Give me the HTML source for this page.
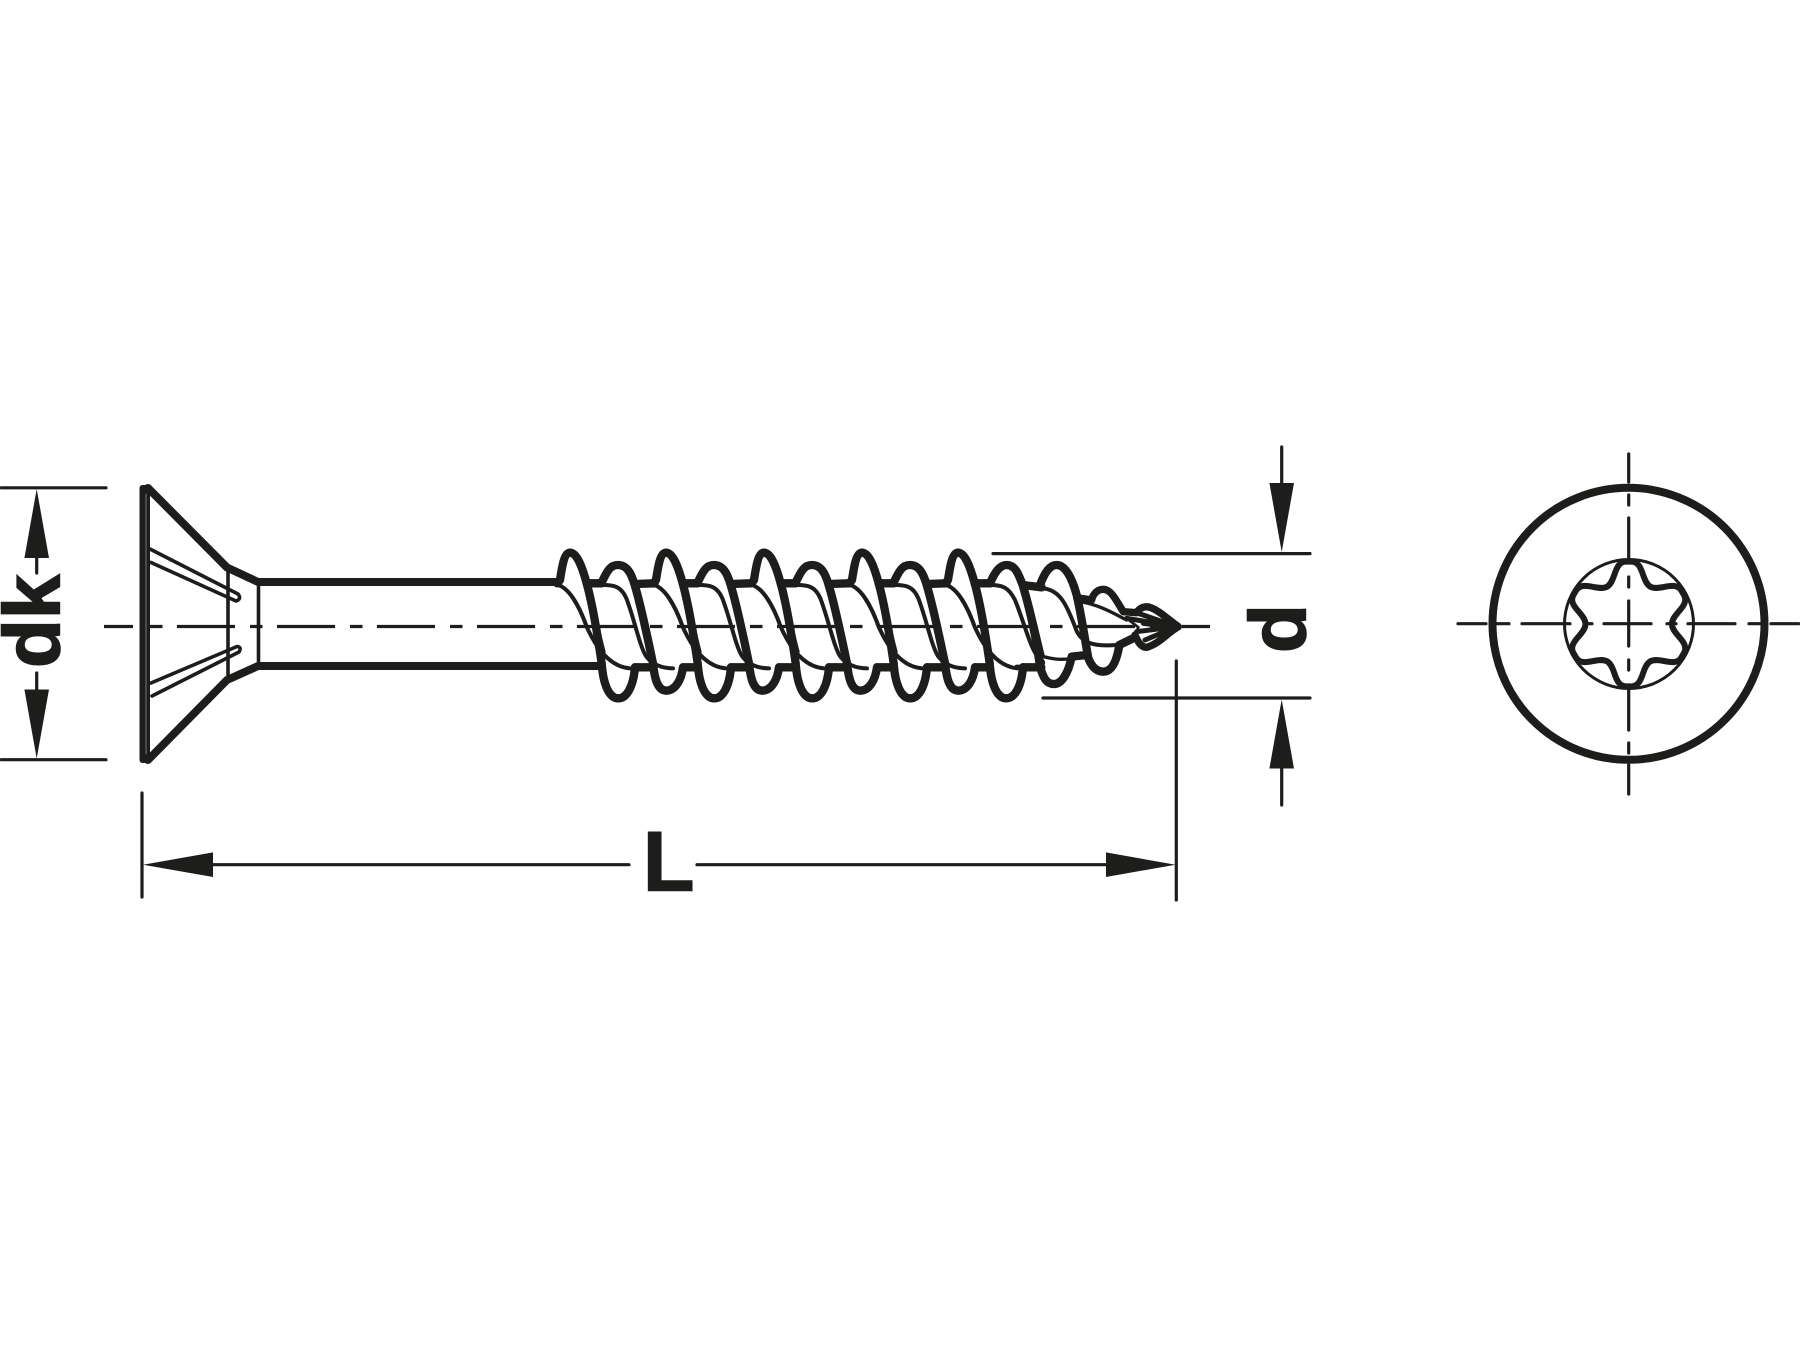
<!DOCTYPE html>
<html><head><meta charset="utf-8"><style>
html,body{margin:0;padding:0;background:#fff}
svg{display:block}
text{font-family:"Liberation Sans",Arial,sans-serif;font-weight:bold;fill:#1d1d1b;stroke:#1d1d1b;stroke-width:1.6}
</style></head><body>
<svg width="1800" height="1350" viewBox="0 0 1800 1350" xmlns="http://www.w3.org/2000/svg">
<defs>
<g id="T" fill="none" stroke="#1d1d1b" stroke-linejoin="round" stroke-linecap="round">
  <path stroke-width="25" d="M-38,160 L-30,150 C-24,112 -18,68 0,68 C20,68 36,108 50,160 C68,225 85,330 95,400 C100,470 120,505 145,505 C170,505 190,470 195,412"/>
  <path stroke-width="25" d="M50,160 L95,160 M195,412 L250,412"/>
  <path stroke-width="12" d="M-35,165 C-5,175 25,220 50,290 C70,335 110,410 180,415"/>
</g>
<g id="S" fill="none" stroke="#1d1d1b" stroke-linejoin="round" stroke-linecap="round">
  <path stroke-width="25" d="M-50,160 C-32,120 -22,105 0,105 C27,105 40,130 50,165 C70,230 90,330 105,400 C110,450 120,482 145,482 C172,482 190,450 195,412"/>
  <path stroke-width="25" d="M50,162 L110,160 M195,412 L240,412"/>
  <path stroke-width="12" d="M-45,165 C-10,165 10,170 25,205 C50,270 65,350 85,380 C105,405 135,415 165,415"/>
  <path stroke-width="10" d="M-90,172 C-70,240 -55,320 -42,365"/>
</g>
<path id="lobe" d="M-65,-112 C-55,-118 -50,-128 -44,-145 C-36,-170 -28,-187 -8,-187 L8,-187 C28,-187 36,-170 44,-145 C50,-128 55,-118 65,-112"/>
</defs>
<rect width="1800" height="1350" fill="#fff"/>

<!-- centre line -->
<g stroke="#1d1d1b" stroke-width="3.2" fill="none">
  <path d="M104,626.5H133"/>
  <path d="M150,626.5H1175" stroke-dasharray="12.5 14.5 58 15"/>
  <path d="M1182,626.5H1210"/>
</g>

<!-- head -->
<g fill="none" stroke="#1d1d1b" stroke-linejoin="round" stroke-linecap="round">
  <rect x="139.5" y="485" width="10.5" height="278" rx="3" fill="#1d1d1b" stroke="none"/>
  <path d="M146,494V754" stroke="#777" stroke-width="1"/>
  <path stroke-width="8" d="M148,488 L227,567.5 L258,582 H557"/>
  <path stroke-width="8" d="M148,760 L227,680 L258,666 H600"/>
  <path stroke-width="3.6" d="M228,570V678 M258.5,583V665"/>
  <path stroke-width="3.6" d="M150,549 L238,594 Q242,599 236,601 L151,562.5"/>
  <path stroke-width="3.6" d="M151,683 L237,646.5 Q242,647 239,652 L152,696"/>
</g>

<!-- thread -->
<use href="#T" transform="translate(570,530) scale(.33333)"/>
<use href="#S" transform="translate(618,530) scale(.33333)"/>
<use href="#T" transform="translate(666,530) scale(.33333)"/>
<use href="#S" transform="translate(714,530) scale(.33333)"/>
<use href="#T" transform="translate(764,530) scale(.33333)"/>
<use href="#S" transform="translate(812,530) scale(.33333)"/>
<use href="#T" transform="translate(862,530) scale(.33333)"/>
<use href="#S" transform="translate(910,530) scale(.33333)"/>
<use href="#T" transform="translate(958,530) scale(.33333)"/>

<!-- tip -->
<g transform="translate(830,530) scale(.33333)" fill="none" stroke="#1d1d1b" stroke-linejoin="round" stroke-linecap="round">
  <path stroke-width="25" d="M480,160 C495,125 510,105 530,105 C555,105 565,130 578,165 C600,240 620,330 630,410 C640,445 650,462 672,462 C695,462 715,430 725,380 L770,375"/>
  <path stroke-width="25" d="M578,165 L635,172"/>
  <path stroke-width="25" d="M630,165 C645,125 660,105 680,105 C705,105 725,140 740,195 C755,260 765,330 775,385 C785,410 800,425 820,425 C845,425 860,395 868,345 L915,322"/>
  <path stroke-width="22" d="M740,203 L785,210 C790,188 805,178 820,178 C845,178 860,215 880,245 L920,248 C930,232 945,228 960,232 C985,240 1010,265 1045,290 C1010,310 990,340 950,352 C930,352 922,330 915,315"/>
  <path stroke-width="12" d="M480,165 C515,165 535,170 555,210 C580,270 600,350 620,375 C640,395 670,412 560,410"/>
  <path stroke-width="12" d="M640,175 C690,180 710,225 735,290 C750,340 790,350 860,345"/>
  <path stroke-width="10" d="M590,180 C610,250 625,320 640,380 C660,385 690,392 725,385"/>
  <path stroke-width="10" d="M750,215 C810,225 850,250 890,270"/>
  <path stroke-width="15" d="M890,265 L1040,290 L925,250 M920,305 L1040,290 L945,330 M940,280 L1040,292"/>
  <path stroke-width="8" d="M890,265 L925,292 L915,318"/>
</g>

<!-- dk dimension -->
<g stroke="#1d1d1b" stroke-width="3.2" fill="none" stroke-linecap="round">
  <path d="M1,487.8H106 M1,759.7H106"/>
  <path d="M36.7,555V573 M36.7,673V692"/>
</g>
<path d="M36.7,489 L49,558 H24.4Z M36.7,758.5 L49,689.5 H24.4Z" fill="#1d1d1b"/>
<text transform="translate(59.3,668) rotate(-90)" font-size="80">dk</text>

<!-- L dimension -->
<g stroke="#1d1d1b" stroke-width="3.2" fill="none" stroke-linecap="round">
  <path d="M142,793V897 M1176.3,661V900"/>
  <path d="M205,864.7H629 M697,864.7H1115"/>
</g>
<path d="M143,864.7 L213,852.4 V877 Z M1175.5,864.7 L1106,852.4 V877 Z" fill="#1d1d1b"/>
<text x="643" y="890.7" font-size="84">L</text>

<!-- d dimension -->
<g stroke="#1d1d1b" stroke-width="3.2" fill="none" stroke-linecap="round">
  <path d="M993,553.6H1310 M1043,698H1310"/>
  <path d="M1281.7,447V490 M1281.7,762V805"/>
</g>
<path d="M1281.7,552 L1294,483 H1269.4Z M1281.7,699.5 L1294,768.5 H1269.4Z" fill="#1d1d1b"/>
<text transform="translate(1305.7,653) rotate(-90)" font-size="80">d</text>

<!-- front view -->
<circle cx="1628.5" cy="623.8" r="136" fill="none" stroke="#1d1d1b" stroke-width="8"/>
<circle cx="1629" cy="624" r="64.5" fill="none" stroke="#1d1d1b" stroke-width="3"/>
<g stroke="#1d1d1b" stroke-width="3.2" fill="none" stroke-linecap="round">
  <path d="M1458,623.7H1486 M1497,623.7H1509 M1522,623.7H1570 M1587,623.7H1592 M1604,623.7H1651 M1667,623.7H1676 M1688,623.7H1735 M1749,623.7H1760 M1771,623.7H1799"/>
  <path d="M1628.7,454V482 M1628.7,495V505 M1628.7,518V560 M1628.7,577V587 M1628.7,601V646 M1628.7,660V670 M1628.7,689V730 M1628.7,743V753 M1628.7,765V794"/>
</g>
<g transform="translate(1628.7,624) scale(.33333)" fill="none" stroke="#1d1d1b" stroke-width="18" stroke-linecap="round" stroke-linejoin="round">
  <use href="#lobe"/>
  <use href="#lobe" transform="rotate(60)"/>
  <use href="#lobe" transform="rotate(120)"/>
  <use href="#lobe" transform="rotate(180)"/>
  <use href="#lobe" transform="rotate(240)"/>
  <use href="#lobe" transform="rotate(300)"/>
</g>
</svg>
</body></html>
